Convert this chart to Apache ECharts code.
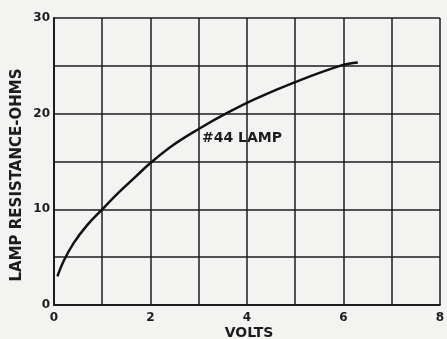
<!DOCTYPE html>
<html>
<head>
<meta charset="utf-8">
<script src="https://cdn.jsdelivr.net/npm/echarts@6/dist/echarts.min.js"></script>
<style>
  html, body { margin: 0; padding: 0; background: #f3f3f1; }
  #chart { width: 447px; height: 339px; }
</style>
</head>
<body>
<div id="chart"></div>
<script>
// values
var volts = [0.07, 0.2, 0.41, 0.68, 1, 1.36, 1.7, 2, 2.48, 3, 3.6, 4.2, 5, 5.96, 6.3]
var ohms = [3.0, 4.6, 6.5, 8.3, 10.0, 11.85, 13.45, 14.85, 16.75, 18.4, 20.1, 21.6, 23.3, 25.05, 25.35]
var xTicks = [0, 2, 4, 6, 8]
var yTicks = [0, 10, 20, 30]

var ink = '#1c1c1c'
var font = '"DejaVu Sans", "Liberation Sans", sans-serif'

var chart = echarts.init(document.getElementById('chart'))
chart.setOption({
  backgroundColor: '#f3f3f1',
  animation: false,
  grid: { left: 54, right: 3, top: 18, bottom: 34 },
  xAxis: {
    type: 'value',
    min: 0, max: 8, interval: 1,
    axisLine: { show: true, lineStyle: { color: ink, width: 2 } },
    axisTick: { show: false },
    splitLine: { show: true, lineStyle: { color: ink, width: 1.5 } },
    axisLabel: {
      color: ink, fontFamily: font, fontWeight: 'bold', fontSize: 12, margin: 7,
      formatter: function (v) { return xTicks.indexOf(v) >= 0 ? String(v) : '' }
    }
  },
  yAxis: {
    type: 'value',
    min: 0, max: 30, interval: 5,
    axisLine: { show: true, lineStyle: { color: ink, width: 2 } },
    axisTick: { show: false },
    splitLine: { show: true, lineStyle: { color: ink, width: 1.5 } },
    axisLabel: {
      color: ink, fontFamily: font, fontWeight: 'bold', fontSize: 12, margin: 4,
      formatter: function (v) { return yTicks.indexOf(v) >= 0 ? String(v) : '' }
    }
  },
  graphic: [
    {
      type: 'text', left: 202, top: 131,
      style: { text: '#44 LAMP', fill: ink, font: 'bold 14px ' + font }
    },
    {
      type: 'text', x: 17, y: 175, rotation: Math.PI / 2,
      style: {
        text: 'LAMP RESISTANCE-OHMS', fill: ink, font: 'bold 15px ' + font,
        align: 'center', verticalAlign: 'middle'
      }
    },
    {
      type: 'text', x: 249, y: 333,
      style: {
        text: 'VOLTS', fill: ink, font: 'bold 14px ' + font,
        align: 'center', verticalAlign: 'middle'
      }
    }
  ],
  series: [{
    type: 'line',
    data: volts.map(function (v, i) { return [v, ohms[i]] }),
    smooth: 0.4,
    showSymbol: false,
    lineStyle: { color: '#111', width: 2.5 }
  }]
})
</script>
</body>
</html>
